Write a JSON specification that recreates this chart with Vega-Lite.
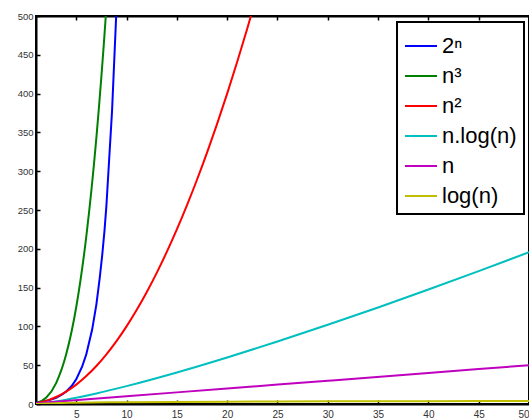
{
  "$schema": "https://vega.github.io/schema/vega-lite/v6.json",
  "width": 493,
  "height": 388,
  "autosize": {"type": "none"},
  "padding": {"left": 36, "top": 16, "right": 0, "bottom": 14},
  "background": "white",
  "config": {
    "view": {"stroke": "black", "strokeWidth": 2},
    "font": "Liberation Sans",
    "axis": {"grid": false, "domainColor": "black", "domainWidth": 2, "tickColor": "black", "tickWidth": 1.5, "labelColor": "#333", "labelFontSize": 10, "labelFont": "Liberation Sans", "labelOverlap": false, "title": null},
    "legend": {"strokeWidth": 2}
  },
  "data": {"values": [
    {"n": 1, "f": "2ⁿ", "v": 2}, {"n": 2, "f": "2ⁿ", "v": 4}, {"n": 3, "f": "2ⁿ", "v": 8}, {"n": 4, "f": "2ⁿ", "v": 16}, {"n": 5, "f": "2ⁿ", "v": 32}, {"n": 6, "f": "2ⁿ", "v": 64}, {"n": 7, "f": "2ⁿ", "v": 128}, {"n": 8, "f": "2ⁿ", "v": 256}, {"n": 9, "f": "2ⁿ", "v": 512}, {"n": 10, "f": "2ⁿ", "v": 1024},
    {"n": 1, "f": "n³", "v": 1}, {"n": 2, "f": "n³", "v": 8}, {"n": 3, "f": "n³", "v": 27}, {"n": 4, "f": "n³", "v": 64}, {"n": 5, "f": "n³", "v": 125}, {"n": 6, "f": "n³", "v": 216}, {"n": 7, "f": "n³", "v": 343}, {"n": 8, "f": "n³", "v": 512}, {"n": 9, "f": "n³", "v": 729},
    {"n": 1, "f": "n²", "v": 1}, {"n": 2, "f": "n²", "v": 4}, {"n": 3, "f": "n²", "v": 9}, {"n": 4, "f": "n²", "v": 16}, {"n": 5, "f": "n²", "v": 25}, {"n": 6, "f": "n²", "v": 36}, {"n": 7, "f": "n²", "v": 49}, {"n": 8, "f": "n²", "v": 64}, {"n": 9, "f": "n²", "v": 81}, {"n": 10, "f": "n²", "v": 100}, {"n": 11, "f": "n²", "v": 121}, {"n": 12, "f": "n²", "v": 144}, {"n": 13, "f": "n²", "v": 169}, {"n": 14, "f": "n²", "v": 196}, {"n": 15, "f": "n²", "v": 225}, {"n": 16, "f": "n²", "v": 256}, {"n": 17, "f": "n²", "v": 289}, {"n": 18, "f": "n²", "v": 324}, {"n": 19, "f": "n²", "v": 361}, {"n": 20, "f": "n²", "v": 400}, {"n": 21, "f": "n²", "v": 441}, {"n": 22, "f": "n²", "v": 484}, {"n": 23, "f": "n²", "v": 529},
    {"n": 1, "f": "n.log(n)", "v": 0}, {"n": 2, "f": "n.log(n)", "v": 1.386}, {"n": 3, "f": "n.log(n)", "v": 3.296}, {"n": 4, "f": "n.log(n)", "v": 5.545}, {"n": 5, "f": "n.log(n)", "v": 8.047}, {"n": 7, "f": "n.log(n)", "v": 13.621}, {"n": 10, "f": "n.log(n)", "v": 23.026}, {"n": 15, "f": "n.log(n)", "v": 40.621}, {"n": 20, "f": "n.log(n)", "v": 59.915}, {"n": 25, "f": "n.log(n)", "v": 80.472}, {"n": 30, "f": "n.log(n)", "v": 102.036}, {"n": 35, "f": "n.log(n)", "v": 124.436}, {"n": 40, "f": "n.log(n)", "v": 147.555}, {"n": 45, "f": "n.log(n)", "v": 171.3}, {"n": 50, "f": "n.log(n)", "v": 195.601},
    {"n": 1, "f": "n", "v": 1}, {"n": 10, "f": "n", "v": 10}, {"n": 20, "f": "n", "v": 20}, {"n": 30, "f": "n", "v": 30}, {"n": 40, "f": "n", "v": 40}, {"n": 50, "f": "n", "v": 50},
    {"n": 1, "f": "log(n)", "v": 0}, {"n": 2, "f": "log(n)", "v": 0.693}, {"n": 3, "f": "log(n)", "v": 1.099}, {"n": 5, "f": "log(n)", "v": 1.609}, {"n": 10, "f": "log(n)", "v": 2.303}, {"n": 20, "f": "log(n)", "v": 2.996}, {"n": 30, "f": "log(n)", "v": 3.401}, {"n": 40, "f": "log(n)", "v": 3.689}, {"n": 50, "f": "log(n)", "v": 3.912}
  ]},
  "layer": [
    {
      "mark": {"type": "line", "clip": true, "strokeWidth": 2, "interpolate": "monotone"},
      "encoding": {
        "x": {"field": "n", "type": "quantitative", "scale": {"domain": [1, 50], "nice": false, "zero": false},
              "axis": {"values": [5, 10, 15, 20, 25, 30, 35, 40, 45, 50], "tickSize": -4, "labelPadding": 9, "labelOverlap": false, "orient": "bottom"}},
        "y": {"field": "v", "type": "quantitative", "scale": {"domain": [0, 500], "nice": false},
              "axis": {"values": [0, 50, 100, 150, 200, 250, 300, 350, 400, 450, 500], "tickSize": -4, "labelPadding": 7, "labelOverlap": false, "labelFontSize": 9.5}},
        "color": {"field": "f", "type": "nominal",
                  "scale": {"domain": ["2ⁿ", "n³", "n²", "n.log(n)", "n", "log(n)"], "range": ["#0000ff", "#008000", "#ff0000", "#00bfbf", "#bf00bf", "#bfbf00"]},
                  "legend": {"title": null, "orient": "none", "legendX": 361, "legendY": 6, "symbolType": "stroke", "symbolSize": 1024, "symbolStrokeWidth": 2, "labelFontSize": 22, "labelFont": "Liberation Sans", "labelColor": "black", "labelOffset": 4, "strokeColor": "black", "fillColor": "white", "padding": 7, "rowPadding": 2, "labelLimit": 200}}
      }
    },
    {
      "mark": {"type": "line", "opacity": 0},
      "encoding": {
        "x": {"field": "n", "type": "quantitative", "axis": {"orient": "top", "values": [5, 10, 15, 20, 25, 30, 35, 40, 45, 50], "tickSize": -4, "labels": false}},
        "y": {"field": "v", "type": "quantitative",
              "axis": {"values": [0, 50, 100, 150, 200, 250, 300, 350, 400, 450, 500], "tickSize": -4, "labelPadding": 7, "labelOverlap": false, "labelFontSize": 9.5}}
      }
    }
  ],
  "resolve": {"axis": {"x": "independent"}}
}
